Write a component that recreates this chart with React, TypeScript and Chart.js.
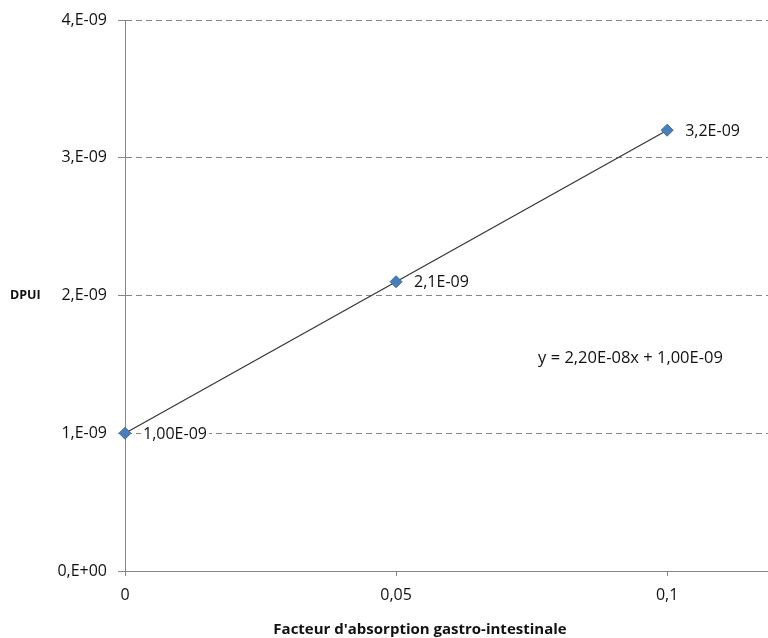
import React, { useEffect, useRef } from "react";
import { Chart, registerables } from "chart.js";

Chart.register(...registerables);

// ---- data ----
const xValues = [0, 0.05, 0.1];
const yValues = [1.0e-9, 2.1e-9, 3.2e-9];
const pointLabels = ["1,00E-09", "2,1E-09", "3,2E-09"];
const trendX = [0, 0.1];
const trendY = [1.0e-9, 3.2e-9];
const xTickValues = [0, 0.05, 0.1];
const xTickLabels = ["0", "0,05", "0,1"];
const yTickLabels = ["0,E+00", "1,E-09", "2,E-09", "3,E-09", "4,E-09"];
const equationText = "y = 2,20E-08x + 1,00E-09";
const equationAt = { x: 0.0762, y: 1.545e-9 };
const xTitle = "Facteur d'absorption gastro-intestinale";
const yTitle = "DPUI";

const FONT = "'Open Sans', 'Noto Sans', sans-serif";
const TEXT = "#111111";
const AXIS = "#868686";

const annotations = {
  id: "annotations",
  afterDatasetsDraw(chart: any) {
    const { ctx, chartArea, scales } = chart;
    const xs = scales.x;
    const ys = scales.y;
    ctx.save();
    ctx.font = `16px ${FONT}`;
    ctx.textBaseline = "middle";
    ctx.textAlign = "left";
    xValues.forEach((xv, i) => {
      const px = xs.getPixelForValue(xv) + 18;
      const py = ys.getPixelForValue(yValues[i]) + 1;
      const w = ctx.measureText(pointLabels[i]).width;
      ctx.fillStyle = "#ffffff";
      ctx.fillRect(px - 2, py - 9, w + 4, 18);
      ctx.fillStyle = TEXT;
      ctx.fillText(pointLabels[i], px, py);
    });
    ctx.font = `16.5px ${FONT}`;
    ctx.fillText(equationText, xs.getPixelForValue(equationAt.x), ys.getPixelForValue(equationAt.y));
    ctx.font = `bold 12.5px ${FONT}`;
    ctx.textAlign = "left";
    ctx.fillText(yTitle, 10, (chartArea.top + chartArea.bottom) / 2);
    ctx.font = `bold 15px ${FONT}`;
    ctx.textAlign = "center";
    ctx.fillText(xTitle, 420, 630);
    ctx.restore();
  },
};

export default function App() {
  const ref = useRef<HTMLCanvasElement | null>(null);
  useEffect(() => {
    if (!ref.current) return;
    const xMax = 0.1186;
    const chart = new Chart(ref.current, {
      type: "scatter",
      data: {
        datasets: [
          {
            label: "DPUI",
            data: xValues.map((x, i) => ({ x, y: yValues[i] })),
            pointStyle: "rectRot",
            pointRadius: 6,
            pointBackgroundColor: "#4A7EBB",
            pointBorderColor: "#3D6DA6",
            pointBorderWidth: 1,
            showLine: false,
            clip: false,
          },
          {
            label: "trend",
            data: trendX.map((x, i) => ({ x, y: trendY[i] })),
            showLine: true,
            borderColor: "#333333",
            borderWidth: 1.2,
            pointRadius: 0,
            clip: false,
          },
        ],
      },
      options: {
        responsive: false,
        animation: false,
        layout: { autoPadding: false, padding: { top: 20, right: 0, bottom: 0, left: 0 } },
        plugins: { legend: { display: false }, tooltip: { enabled: false } },
        scales: {
          x: {
            type: "linear",
            min: 0,
            max: xMax,
            afterBuildTicks: (scale: any) => {
              scale.ticks = xTickValues.map((v) => ({ value: v }));
            },
            afterFit: (scale: any) => {
              scale.height = 67;
              scale.paddingRight = 0;
              scale.paddingLeft = 0;
            },
            ticks: {
              callback: (_v: any, i: number) => xTickLabels[i],
              font: { family: FONT, size: 16 },
              color: TEXT,
              padding: 10,
              maxRotation: 0,
            },
            grid: {
              drawOnChartArea: false,
              drawTicks: true,
              tickLength: 5,
              tickColor: AXIS,
            },
            border: { display: true, color: AXIS, width: 1 },
          },
          y: {
            type: "linear",
            min: 0,
            max: 4e-9,
            afterFit: (scale: any) => {
              scale.width = 125;
              scale.paddingTop = 0;
            },
            ticks: {
              stepSize: 1e-9,
              callback: (_v: any, i: number) => yTickLabels[i],
              font: { family: FONT, size: 16 },
              color: TEXT,
              padding: 11,
            },
            grid: {
              color: (c: any) => (c.index === 0 ? "rgba(0,0,0,0)" : AXIS),
              tickBorderDash: [1, 0],
              tickColor: AXIS,
              tickLength: 7,
              lineWidth: 1,
            },
            border: { display: true, color: AXIS, width: 1, dash: [6, 4] },
          },
        },
      },
      plugins: [annotations],
    } as any);
    return () => chart.destroy();
  }, []);
  return (
    <div style={{ position: "absolute", left: 0, top: 0, width: 768, height: 638, background: "#fff" }}>
      <canvas ref={ref} width={768} height={638} style={{ display: "block" }} />
    </div>
  );
}
